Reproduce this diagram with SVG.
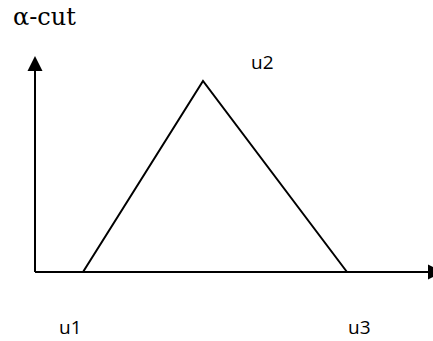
<svg xmlns="http://www.w3.org/2000/svg" width="433" height="341" viewBox="0 0 433 341">
<style>
.ln{stroke:#000;stroke-width:2;fill:none}
.lbl{font-family:"Open Sans","Liberation Sans",sans-serif;font-size:19px;fill:#000}
</style>
<rect width="433" height="341" fill="#fff"/>
<g id="connectors">
<line class="ln" x1="35" y1="272" x2="35" y2="68"/>
<polygon points="35,56 27.5,71 42.5,71" fill="#000"/>
<line class="ln" x1="35" y1="272" x2="430" y2="272"/>
<polygon points="443,272 428,264.5 428,279.5" fill="#000"/>
</g>
<g id="triangle">
<polyline class="ln" points="83,272 203,81 347,272"/>
</g>
<g id="labels">
<text x="13" y="25" font-family="DejaVu Serif, Liberation Serif, serif" font-size="24" fill="#000">α-cut</text>
<text class="lbl" x="251" y="69">u2</text>
<text class="lbl" x="59" y="334">u1</text>
<text class="lbl" x="348" y="334">u3</text>
</g>
</svg>
